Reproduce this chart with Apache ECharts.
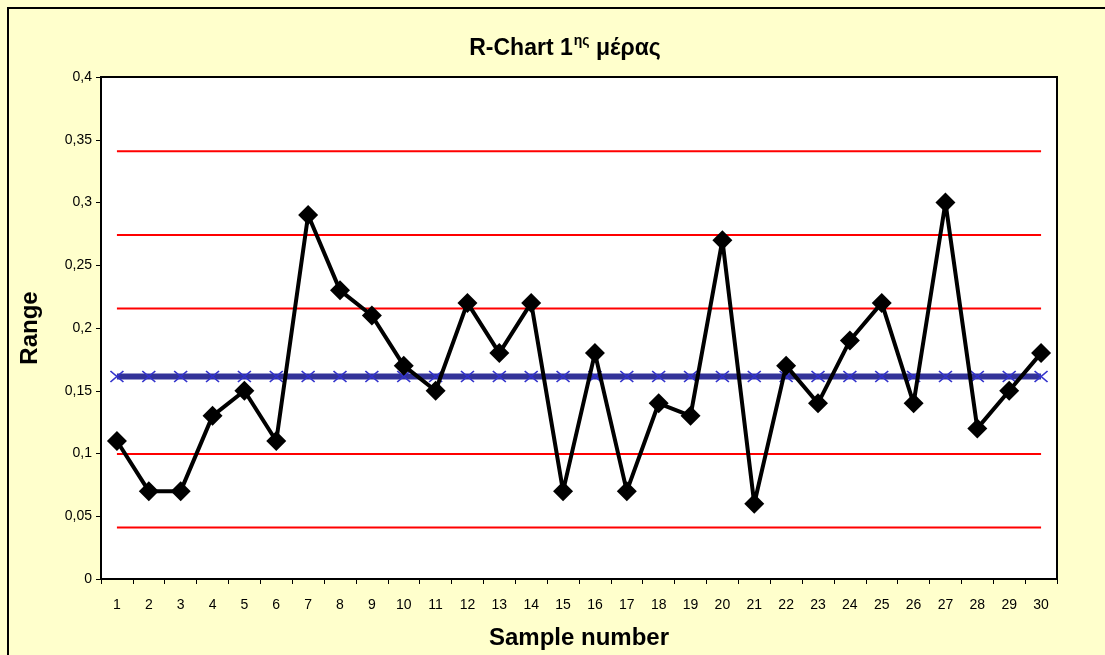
<!DOCTYPE html>
<html>
<head>
<meta charset="utf-8">
<script src="https://cdn.jsdelivr.net/npm/echarts@6/dist/echarts.min.js"></script>
<style>
  html, body { margin: 0; padding: 0; background: #ffffcc; }
  #frame { position: absolute; left: 7px; top: 7px; width: 1200px; height: 760px;
           border: 2px solid #000; box-sizing: border-box; background: #ffffcc; }
  #chart { position: absolute; left: 0; top: 0; width: 1105px; height: 655px; }
</style>
</head>
<body>
<div id="frame"></div>
<div id="chart"></div>
<script>
// Sample numbers along the x axis
const samples = ['1','2','3','4','5','6','7','8','9','10','11','12','13','14','15',
                 '16','17','18','19','20','21','22','23','24','25','26','27','28','29','30'];
// Range of each sample
const ranges = [0.11, 0.07, 0.07, 0.13, 0.15, 0.11, 0.29, 0.23, 0.21, 0.17,
                0.15, 0.22, 0.18, 0.22, 0.07, 0.18, 0.07, 0.14, 0.13, 0.27,
                0.06, 0.17, 0.14, 0.19, 0.22, 0.14, 0.30, 0.12, 0.15, 0.18];
// Centre line (mean range) and the zone / control limits
const centreLine = 0.1613;
const limitLevels = [0.0411, 0.0996, 0.2155, 0.2742, 0.3409];
// Y axis tick values
const yTicks = [0, 0.05, 0.1, 0.15, 0.2, 0.25, 0.3, 0.35, 0.4];

const font = '"Liberation Sans", Arial, sans-serif';

const limitSeries = limitLevels.map(function (v) {
  return {
    type: 'line',
    data: samples.map(function () { return v; }),
    symbol: 'none',
    lineStyle: { color: '#ff0000', width: 2 },
    silent: true,
    z: 2
  };
});

const chart = echarts.init(document.getElementById('chart'), null, { renderer: 'canvas' });
chart.setOption({
  backgroundColor: 'transparent',
  animation: false,
  title: {
    text: '{a|R-Chart 1}{s|ης}{a| μέρας}',
    left: 560,
    top: 29,
    textAlign: 'center',
    textStyle: {
      rich: {
        a: { fontFamily: font, fontWeight: 'bold', fontSize: 23, color: '#000', lineHeight: 26, verticalAlign: 'bottom' },
        s: { fontFamily: font, fontWeight: 'bold', fontSize: 14, color: '#000', lineHeight: 26, verticalAlign: 'top', padding: [0, 0, 9, 1] }
      }
    }
  },
  grid: {
    left: 101, top: 77, width: 956, height: 504,
    show: true, backgroundColor: '#ffffff', borderColor: '#000', borderWidth: 2
  },
  xAxis: {
    type: 'category',
    data: samples,
    boundaryGap: true,
    name: 'Sample number',
    nameLocation: 'middle',
    nameGap: 47,
    nameTextStyle: { fontFamily: font, fontWeight: 'bold', fontSize: 24, color: '#000' },
    axisLine: { lineStyle: { color: '#000', width: 2 } },
    axisTick: { show: true, inside: false, length: 5, alignWithLabel: false, lineStyle: { color: '#000', width: 1 } },
    axisLabel: { fontFamily: font, fontSize: 14, color: '#000', margin: 19, interval: 0 },
    splitLine: { show: false }
  },
  yAxis: {
    type: 'value',
    min: 0, max: 0.4, interval: 0.05,
    name: 'Range',
    nameLocation: 'middle',
    nameGap: 59,
    nameRotate: 90,
    nameTextStyle: { fontFamily: font, fontWeight: 'bold', fontSize: 24, color: '#000' },
    axisLine: { show: true, lineStyle: { color: '#000', width: 2 } },
    axisTick: { show: true, inside: false, length: 5, lineStyle: { color: '#000', width: 1 } },
    axisLabel: {
      fontFamily: font, fontSize: 14, color: '#000', margin: 9,
      formatter: function (v) {
        const t = yTicks.find(function (k) { return Math.abs(k - v) < 1e-9; });
        return String(t !== undefined ? t : v).replace('.', ',');
      }
    },
    splitLine: { show: false }
  },
  series: limitSeries.concat([
    {
      type: 'line',
      data: samples.map(function () { return centreLine; }),
      symbol: 'path://M0,0L10,10M10,0L0,10',
      symbolSize: [13, 11],
      itemStyle: { color: 'none', borderColor: '#3333cc', borderWidth: 1.5 },
      lineStyle: { color: '#333399', width: 6 },
      silent: true,
      z: 3
    },
    {
      type: 'line',
      data: ranges,
      symbol: 'diamond',
      symbolSize: 20,
      itemStyle: { color: '#000' },
      lineStyle: { color: '#000', width: 4 },
      z: 4
    }
  ])
});
</script>
</body>
</html>
